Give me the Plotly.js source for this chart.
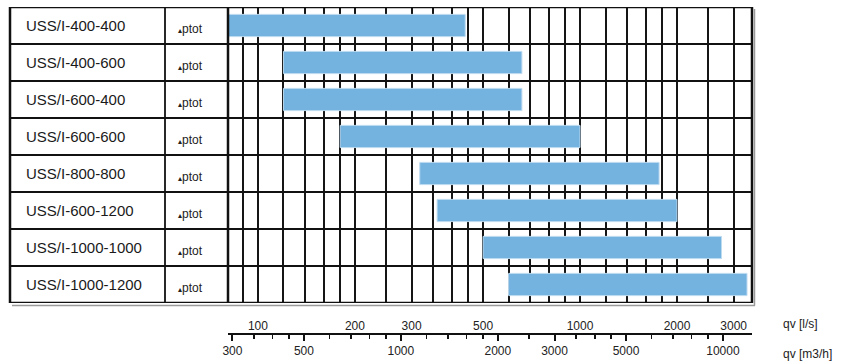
<!DOCTYPE html>
<html>
<head>
<meta charset="utf-8">
<script src="https://cdn.plot.ly/plotly-3.0.1.min.js"></script>
<style>html,body{margin:0;padding:0;background:#fff;}#chart{width:848px;height:364px;}</style>
</head>
<body>
<div id="chart"></div>
<script>
// ---- data ----
const categories = ['USS/I-400-400','USS/I-400-600','USS/I-600-400','USS/I-600-600','USS/I-800-800','USS/I-600-1200','USS/I-1000-1000','USS/I-1000-1200'];
const rowUnitMark = '▴';
const rowUnit = 'ptot';
const flowStart = [81, 120, 120, 180, 318, 360, 500, 600];     // l/s
const flowEnd   = [440, 660, 660, 1000, 1760, 2000, 2750, 3300]; // l/s
const lsMajor = [100, 200, 300, 500, 1000, 2000, 3000];
const lsMinor = [90, 120, 140, 160, 180, 250, 350, 400, 450, 600, 700, 800, 900, 1200, 1400, 1600, 1800, 2500];
const m3hMajor = [300, 500, 1000, 2000, 3000, 5000, 10000];
const m3hMinor = [350, 400, 450, 600, 700, 800, 900, 1200, 1400, 1600, 1800, 2500, 3500, 4000, 4500, 6000, 7000, 8000, 9000];
const lsLabel = 'qv [l/s]';
const m3hLabel = 'qv [m3/h]';

// ---- layout geometry ----
const W = 848, H = 364;
const px = v => v / W;
const py = v => (H - v) / H;
const lsRange = [1.907, 3.534];
const conv = Math.log10(3.6);
const m3hRange = [lsRange[0] + conv, lsRange[1] + conv];
const FONT = 'Liberation Sans, Arial, sans-serif';
const n = categories.length;

const lsAll = lsMajor.concat(lsMinor).sort((a, b) => a - b);
const lsText = lsAll.map(v => lsMajor.includes(v) ? String(v) : '');

const traces = [
  {
    type: 'bar', orientation: 'h',
    y: categories,
    base: flowStart,
    x: flowEnd.map((e, i) => e - flowStart[i]),
    width: 0.6,
    marker: {color: '#74B2DF', line: {color: '#BCDAF0', width: 1}},
    xaxis: 'x', yaxis: 'y', hoverinfo: 'skip', showlegend: false
  },
  {type: 'scatter', x: [], y: [], xaxis: 'x2', yaxis: 'y', showlegend: false, hoverinfo: 'skip'}
];

const shapes = [];
// row separators
for (let i = 0; i <= n; i++) {
  shapes.push({type: 'line', xref: 'paper', yref: 'y', x0: px(10), x1: px(752), y0: i - 0.5, y1: i - 0.5,
    line: {color: '#111', width: (i === 0 || i === n) ? 2.5 : 1.8}, layer: 'above'});
}
// column separators
[[10, 2.5], [165, 1.8], [228, 2.5], [752, 2.5]].forEach(([x, w]) => {
  shapes.push({type: 'line', xref: 'paper', yref: 'y', x0: px(x), x1: px(x), y0: -0.5, y1: n - 0.5,
    line: {color: '#111', width: w}, layer: 'above'});
});
// shadow
shapes.push({type: 'line', xref: 'paper', yref: 'paper', x0: px(12), x1: px(755), y0: py(305.5), y1: py(305.5), line: {color: '#9a9a9a', width: 1.5}});
shapes.push({type: 'line', xref: 'paper', yref: 'paper', x0: px(754.5), x1: px(754.5), y0: py(9), y1: py(305.5), line: {color: '#9a9a9a', width: 1.5}});

const annotations = [];
categories.forEach((c, i) => {
  annotations.push({xref: 'paper', yref: 'y', x: px(24), y: c, xanchor: 'left', yanchor: 'middle', showarrow: false,
    text: c, font: {family: FONT, size: 15, color: '#1a1a1a'}});
  annotations.push({xref: 'paper', yref: 'y', x: px(176), y: c, xanchor: 'left', yanchor: 'middle', showarrow: false, yshift: -3,
    text: '<span style="font-family:DejaVu Sans;font-size:8px;color:#222">' + rowUnitMark + '</span>' + rowUnit,
    font: {family: FONT, size: 12, color: '#222'}});
});
annotations.push({xref: 'paper', yref: 'paper', x: px(781), y: py(324), xanchor: 'left', yanchor: 'middle', showarrow: false,
  text: lsLabel, font: {family: FONT, size: 12, color: '#222'}});
annotations.push({xref: 'paper', yref: 'paper', x: px(781), y: py(354), xanchor: 'left', yanchor: 'middle', showarrow: false,
  text: m3hLabel, font: {family: FONT, size: 12, color: '#222'}});

const layout = {
  width: W, height: H,
  margin: {l: 0, r: 0, t: 0, b: 0, pad: 0},
  paper_bgcolor: '#fff', plot_bgcolor: '#fff',
  showlegend: false,
  xaxis: {
    type: 'log', range: lsRange, domain: [px(228), px(752)],
    tickmode: 'array', tickvals: lsAll, ticktext: lsText,
    ticks: 'outside', ticklen: 12, tickcolor: 'rgba(0,0,0,0)',
    showgrid: true, gridcolor: '#151515', gridwidth: 2,
    zeroline: false, showline: false,
    tickfont: {family: FONT, size: 12, color: '#222'}, fixedrange: true
  },
  xaxis2: {
    type: 'log', range: m3hRange, overlaying: 'x', anchor: 'free', position: py(334), side: 'bottom',
    tickmode: 'array', tickvals: m3hMajor, ticktext: m3hMajor.map(String),
    ticks: 'outside', ticklen: 6, tickwidth: 2, tickcolor: '#111',
    minor: {tickmode: 'array', tickvals: m3hMinor, ticks: 'outside', ticklen: 4, tickwidth: 1.5, tickcolor: '#111', showgrid: false},
    showgrid: false, zeroline: false, showline: true, linecolor: '#111', linewidth: 2,
    tickfont: {family: FONT, size: 12, color: '#222'}, fixedrange: true
  },
  yaxis: {
    type: 'category', domain: [py(303), py(7)], range: [n - 0.5, -0.5],
    showgrid: false, zeroline: false, showticklabels: false, ticks: '', fixedrange: true
  },
  shapes: shapes,
  annotations: annotations
};

Plotly.newPlot('chart', traces, layout, {displayModeBar: false, staticPlot: true});
</script>
</body>
</html>
